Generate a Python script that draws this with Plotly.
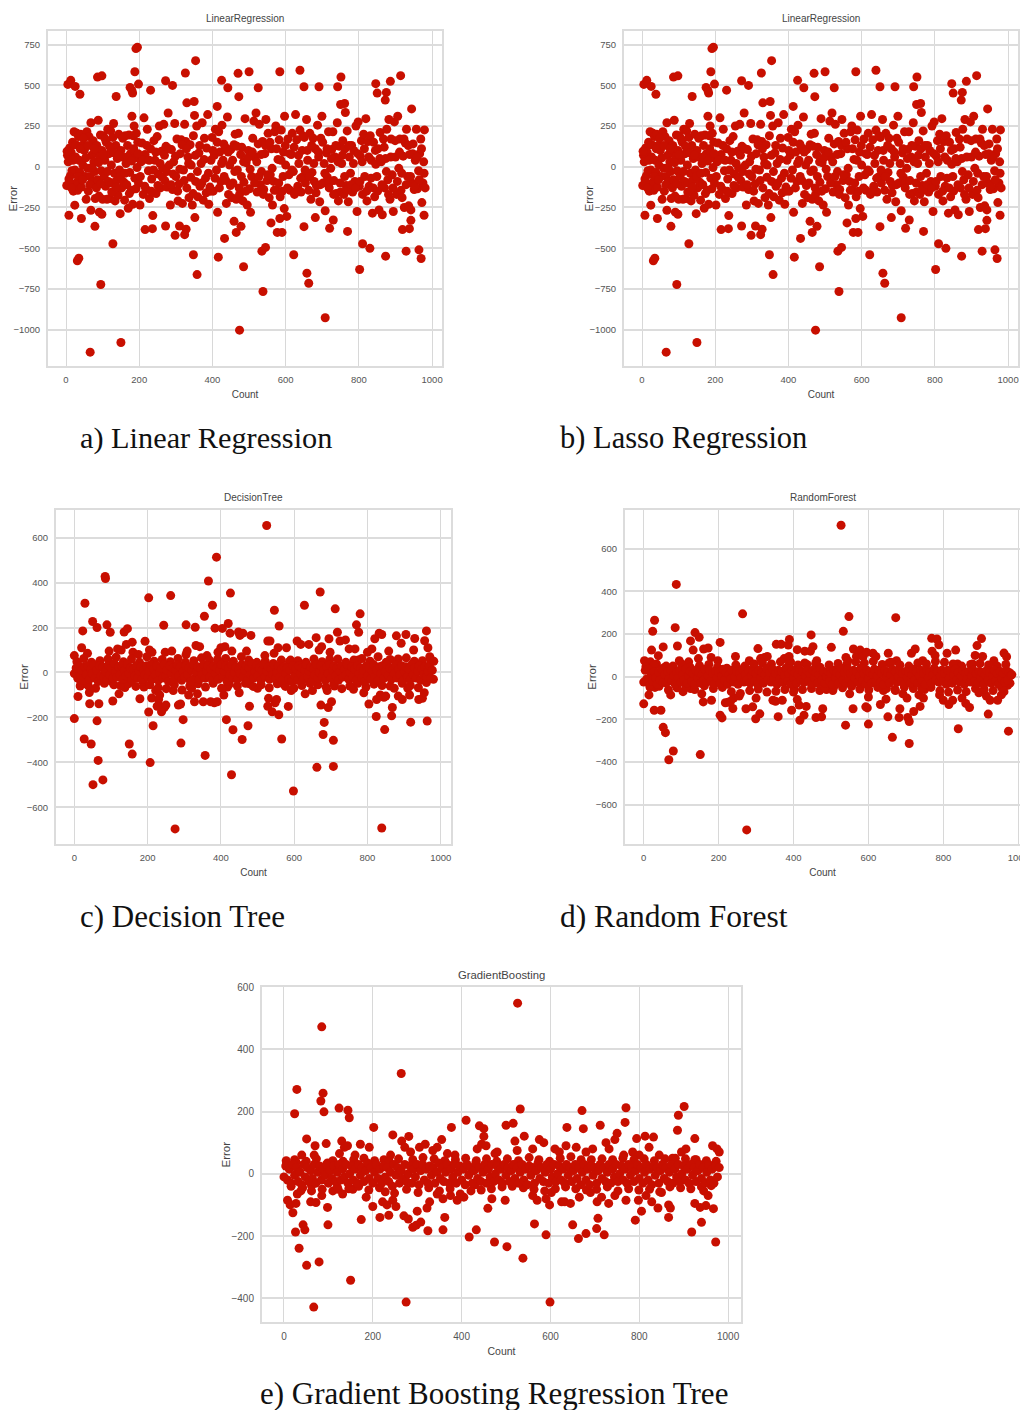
import plotly.graph_objects as go

W, H = 1020, 1410
RED = "#c80f00"

# ---------- Linear / Lasso regression (the two panels are visually identical) ----------
lr_outer = [(5,505),(13,530),(25,493),(38,445),(86,550),(98,558),(188,583),(195,733),(191,725),(198,507),(175,487),(182,452),(180,468),(137,431),(231,470),(272,528),(291,499),(326,575),(354,651),(330,392),(350,400),(413,370),(425,530),(442,485),(470,573),(472,430),(500,583),(525,485),(584,583),(639,592),(650,491),(691,491),(742,491),(751,551),(750,382),(761,388),(763,333),(846,510),(850,452),(872,409),(875,456),(886,524),(914,559),(944,355),(8,-298),(42,-318),(24,-236),(68,-267),(79,-366),(91,-279),(98,-292),(128,-473),(31,-577),(35,-561),(95,-723),(66,-1138),(150,-1079),(148,-288),(216,-386),(236,-380),(272,-364),(298,-421),(310,-364),(324,-417),(328,-384),(348,-540),(352,-312),(358,-662),(416,-555),(433,-440),(459,-335),(465,-403),(478,-366),(485,-614),(474,-1003),(535,-518),(545,-495),(538,-766),(560,-345),(577,-403),(590,-403),(584,-318),(596,-257),(622,-540),(650,-368),(658,-653),(663,-715),(681,-312),(708,-927),(720,-378),(730,-327),(769,-397),(810,-473),(802,-631),(830,-501),(873,-549),(919,-386),(929,-518),(938,-380),(964,-510),(970,-563),(942,-329),(978,-298),(979,226)]
lr_band = [(2,-115),(4,70),(6,30),(8,-75),(10,115),(12,-55),(14,90),(16,-25),(18,150),(20,-150),(22,215),(24,-20),(26,60),(28,-100),(30,205),(32,-145),(34,185),(36,40),(38,-35),(40,200),(42,-125),(44,130),(46,10),(50,100),(52,-60),(55,-200),(57,215),(59,-10),(61,-150),(63,185),(66,-60),(68,270),(70,70),(72,-90),(74,160),(76,30),(78,-30),(80,-195),(82,85),(84,130),(86,-80),(88,285),(90,-180),(92,60),(94,195),(96,-25),(98,100),(100,-200),(102,190),(104,-60),(106,40),(108,-120),(110,150),(112,-200),(114,230),(116,-90),(118,80),(120,-195),(122,220),(124,10),(126,-100),(128,180),(130,265),(132,-40),(134,-210),(136,130),(138,-85),(140,50),(142,-175),(144,200),(146,-20),(150,100),(152,-130),(154,60),(158,-95),(160,-205),(162,190),(164,20),(166,-110),(168,130),(170,-255),(172,195),(174,-35),(176,80),(178,-145),(180,310),(182,-230),(184,190),(186,250),(188,-70),(190,55),(192,205),(194,-5),(196,150),(198,-100),
(202,-235),(205,30),(208,145),(211,-170),(213,300),(216,75),(219,-140),(222,230),(225,-25),(228,-195),(231,110),(234,-75),(237,-300),(240,160),(243,40),(246,-165),(249,185),(252,-45),(255,250),(258,-130),(261,95),(264,-10),(267,260),(270,-85),(273,125),(276,-125),(279,330),(282,10),(285,-235),(288,105),(291,-140),(294,30),(297,265),(300,-60),(303,170),(306,-210),(309,-105),(312,80),(315,165),(318,-225),(321,-20),(324,260),(327,155),(330,-130),(333,60),(336,-190),(339,135),(342,10),(345,-235),(348,190),(351,315),(354,-90),(357,250),(360,-185),(363,85),(366,-120),(369,20),(372,270),(375,-205),(378,175),(381,-70),(384,115),(387,320),(390,-230),(393,-125),(396,40),(399,180),(402,-150),(405,70),(408,230),(411,-20),(414,-280),(417,215),(420,90),(423,-90),(426,255),(429,40),(432,-60),(435,120),(438,-225),(441,305),(444,-170),(447,10),(450,105),(453,-190),(456,-100),(459,135),(462,200),(465,-200),(468,-20),(471,205),(474,-170),(477,75),(480,120),(483,-210),(486,-95),(489,295),(492,25),(495,-235),(498,100),(501,-135),(504,-280),(507,-60),(510,175),(513,280),(516,60),(519,330),(522,-155),(525,140),(528,260),(531,-110),(534,-30),(537,155),(540,-140),(543,80),(546,290),(549,-85),(552,205),(555,-190),(558,-50),(561,110),(564,-235),(567,-90),(570,215),(573,250),(576,-145),(579,45),(582,165),(585,-185),(588,225),(591,-150),(594,90),(597,310),(600,10),(603,-305),(606,170),(609,-50),(612,-145),(615,75),(618,205),(621,-30),(624,-170),(627,320),(630,165),(633,-120),(636,20),(639,225),(642,-155),(645,100),(648,-60),(651,180),(654,-100),(657,290),(660,40),(663,-145),(666,205),(669,-200),(672,-35),(675,175),(678,-90),(681,110),(684,-115),(687,255),(690,60),(693,-215),(696,175),(699,310),(702,-100),(705,20),(708,-270),(711,85),(714,-65),(717,215),(720,-95),(723,-10),(726,105),(729,215),(732,-85),(735,60),(738,-165),(741,270),(744,-210),(747,125),(750,-155),(753,20),(756,160),(759,-170),(762,110),(765,-115),(768,220),(771,-215),(774,60),(777,-40),(780,130),(783,-155),(786,100),(789,-90),(792,250),(795,-275),(798,275),(801,-120),(804,65),(807,160),(810,-170),(813,200),(816,-60),(819,295),(822,-210),(825,155),(828,-120),(831,190),(834,40),(837,-285),(840,150),(843,-185),(846,15),(849,-60),(852,110),(855,-265),(858,210),(861,30),(864,-295),(867,170),(870,-130),(873,50),(876,230),(879,-80),(882,290),(885,-200),(888,170),(891,-50),(894,-275),(897,275),(900,60),(903,-170),(906,310),(909,-10),(912,170),(915,-145),(918,-190),(921,65),(924,-250),(927,145),(930,230),(933,-60),(936,-240),(939,75),(942,-265),(945,-100),(948,140),(951,-140),(954,40),(957,230),(960,-135),(963,-25),(966,80),(969,170),(972,-220),(975,-100),(978,-40),(981,-130)]
lr_band2 = [(3,95),(9,-95),(15,-130),(19,40),(27,135),(33,-60),(39,110),(45,-80),(48,175),(54,55),(60,130),(65,-110),(71,-5),(77,110),(83,-130),(89,25),(95,-105),(101,75),(107,170),(113,-30),(119,125),(125,-155),(131,85),(137,-125),(143,70),(149,-60),(155,175),(161,-40),(167,60),(173,-165),(179,35),(185,110),(191,-135),(197,80),(203,-60),(209,40),(215,-120),(221,130),(227,40),(233,-150),(239,-20),(245,90),(251,-115),(257,20),(263,-65),(269,70),(275,-30),(281,110),(287,-110),(293,-45),(299,65),(305,-150),(311,-15),(317,135),(323,-85),(329,110),(335,20),(341,-65),(347,-165),(353,70),(359,-30),(365,130),(371,-100),(377,45),(383,-160),(389,-40),(395,-150),(401,100),(407,-70),(413,150),(419,-130),(425,20),(431,140),(437,-85),(443,90),(449,-115),(455,40),(461,-30),(467,125),(473,-130),(479,-60),(485,30),(491,-150),(497,55),(503,-15),(509,90),(515,-100),(521,30),(527,-60),(533,75),(539,-170),(545,130),(551,-50),(557,150),(563,-10),(569,-145),(575,110),(581,-100),(587,40),(593,-60),(599,130),(605,-130),(611,80),(617,-20),(623,120),(629,-150),(635,70),(641,-70),(647,190),(653,-20),(659,100),(665,-60),(671,130),(677,20),(683,-160),(689,90),(695,-110),(701,150),(707,-40),(713,110),(719,-130),(725,50),(731,-170),(737,130),(743,30),(749,-100),(755,70),(761,-60),(767,-145),(773,130),(779,-110),(785,20),(791,-130),(797,80),(803,-90),(809,30),(815,110),(821,-150),(827,60),(833,-70),(839,-130),(845,100),(851,-150),(857,50),(863,-110),(869,120),(875,-30),(881,-170),(887,60),(893,-130),(899,160),(905,-90),(911,90),(917,-40),(923,170),(929,-110),(935,130),(941,-60),(947,80),(953,-120),(959,60),(965,-80),(971,110),(977,30)]

# ---------- Decision tree ----------
dt_outer = [(0,-205),(0,75),(29,308),(23,185),(50,227),(62,200),(84,427),(85,418),(89,212),(98,179),(27,-296),(46,-318),(65,-391),(51,-499),(78,-478),(62,-215),(10,-107),(41,-89),(42,-139),(67,-139),(105,-127),(122,-95),(150,-318),(158,-363),(138,-67),(179,-117),(203,332),(193,139),(244,210),(263,342),(305,212),(330,201),(355,250),(366,407),(377,299),(388,513),(384,197),(426,353),(420,218),(404,196),(203,-176),(207,-401),(215,-237),(211,-114),(291,-314),(297,-210),(275,-696),(357,-369),(415,-210),(433,-255),(429,-455),(458,-298),(474,-237),(478,-150),(525,654),(546,277),(559,207),(628,299),(671,358),(712,283),(718,179),(780,261),(770,212),(776,179),(558,-188),(566,-296),(598,-527),(584,-151),(662,-422),(682,-222),(679,-276),(707,-302),(707,-418),(693,-156),(673,-145),(839,-692),(847,-254),(824,-196),(866,-193),(868,-156),(918,-221),(963,-216),(961,185),(956,141),(929,151),(905,169),(879,163),(839,169),(832,175),(234,-150),(240,-165),(246,-155),(230,-120),(250,-145),(238,-175),(226,-150)]
dt_mid = [(20,110),(16,-60),(36,85),(30,-50),(95,95),(108,-55),(118,105),(128,100),(136,180),(142,125),(145,195),(158,135),(160,90),(175,80),(190,-65),(205,100),(212,90),(222,-80),(233,-100),(248,90),(266,95),(270,-80),(284,-145),(290,-140),(305,80),(308,95),(312,-100),(320,-70),(328,-130),(332,120),(342,115),(336,-95),(352,-130),(362,75),(372,-130),(382,-135),(390,-130),(392,90),(400,110),(408,-100),(411,115),(418,-65),(430,95),(425,175),(448,180),(452,165),(460,175),(470,95),(482,165),(450,-90),(478,-50),(500,-70),(520,75),(528,140),(534,140),(530,-115),(528,-150),(540,-175),(548,-135),(552,-120),(545,85),(556,110),(570,-50),(579,110),(590,55),(592,-80),(608,140),(618,125),(640,125),(630,-95),(650,-80),(660,155),(668,100),(675,115),(695,150),(698,90),(690,-80),(702,-130),(710,-60),(725,140),(740,145),(750,105),(766,105),(762,-75),(775,55),(790,-90),(800,90),(804,-140),(812,105),(820,150),(825,-120),(835,-100),(845,-110),(850,-105),(858,95),(862,-60),(892,130),(884,-105),(895,-120),(910,-70),(915,-100),(926,100),(940,-120),(950,-115),(955,-90),(965,110),(970,70)]
dt_fill = [(7,48),(18,-45),(26,62),(38,-58),(47,45),(58,-70),(70,52),(82,-48),(92,60),(103,-42),(114,68),(126,-58),(134,48),(147,-50),(156,60),(168,-62),(178,45),(187,-40),(198,70),(206,-55),(218,50),(229,-68),(240,58),(251,-72),(262,48),(273,-55),(283,62),(294,-78),(303,45),(315,-60),(326,52),(338,-50),(347,65),(358,-65),(369,55),(379,-48),(391,58),(402,-70),(413,62),(423,-52),(434,50),(445,-60),(456,70),(467,-48),(476,55),(488,-62),(498,45),(510,-55),(521,50),(532,-68),(543,40),(554,-50),(565,55),(576,-62),(587,48),(599,-70),(610,52),(621,-58),(632,45),(643,-48),(654,60),(665,-55),(676,48),(687,-65),(697,58),(708,-50),(719,60),(730,-72),(741,45),(752,-60),(763,55),(774,-48),(785,62),(796,-65),(807,50),(818,-52),(829,70),(840,-58),(851,45),(862,58),(873,-70),(884,60),(895,-48),(906,65),(917,-58),(928,50),(939,-68),(950,52),(961,-45),(972,58),(980,-30)]
dt_core = [(0,-5),(5,20),(9,-25),(13,30),(17,-15),(21,10),(25,-35),(29,25),(33,-10),(37,30),(41,-30),(45,15),(49,-5),(53,35),(57,-25),(61,10),(65,-40),(69,30),(73,-15),(77,25),(81,-20),(85,5),(89,-35),(93,30),(97,-10),(101,20),(105,-25),(109,40),(113,0),(117,-20),(121,25),(125,-10),(129,30),(133,-30),(137,10),(141,-15),(145,35),(149,-5),(153,20),(157,-35),(161,15),(165,-15),(169,30),(173,-25),(177,5),(181,25),(185,-30),(189,10),(193,-10),(197,30),(201,-20),(205,5),(209,35),(213,-30),(217,15),(221,-10),(225,30),(229,-35),(233,0),(237,20),(241,-25),(245,35),(249,-15),(253,10),(257,-40),(261,30),(265,-5),(269,20),(273,-30),(277,10),(281,35),(285,-15),(289,25),(293,-35),(297,5),(301,-20),(305,30),(309,-10),(313,20),(317,-40),(321,10),(325,35),(329,-25),(333,0),(337,25),(341,-30),(345,15),(349,-10),(353,35),(357,-25),(361,5),(365,30),(369,-20),(373,15),(377,-35),(381,30),(385,-5),(389,20),(393,-30),(397,10),(401,35),(405,-20),(409,5),(413,30),(417,-40),(421,20),(425,-10),(429,35),(433,-25),(437,0),(441,25),(445,-30),(449,15),(453,-5),(457,35),(461,-20),(465,10),(469,30),(473,-35),(477,20),(481,-10),(485,40),(489,-25),(493,5),(497,30),(501,-15),(505,20),(509,-35),(513,10),(517,35),(521,-20),(525,5),(529,25),(533,-30),(537,15),(541,-10),(545,35),(549,-25),(553,0),(557,30),(561,-20),(565,15),(569,-35),(573,25),(577,-5),(581,20),(585,-30),(589,10),(593,-40),(597,30),(601,-15),(605,15),(609,-35),(613,30),(617,-5),(621,20),(625,-30),(629,10),(633,35),(637,-20),(641,5),(645,25),(649,-40),(653,15),(657,-10),(661,35),(665,-25),(669,0),(673,30),(677,-20),(681,10),(685,-35),(689,25),(693,-5),(697,35),(701,-25),(705,10),(709,30),(713,-15),(717,20),(721,-35),(725,5),(729,30),(733,-20),(737,15),(741,-10),(745,35),(749,-30),(753,0),(757,25),(761,-20),(765,15),(769,-35),(773,30),(777,-5),(781,20),(785,-25),(789,10),(793,-40),(797,30),(801,-15),(805,20),(809,-30),(813,5),(817,35),(821,-20),(825,10),(829,-35),(833,25),(837,-5),(841,30),(845,-25),(849,5),(853,35),(857,-15),(861,20),(865,-30),(869,10),(873,-5),(877,35),(881,-25),(885,15),(889,-10),(893,30),(897,-35),(901,5),(905,25),(909,-20),(913,15),(917,-30),(921,35),(925,-10),(929,20),(933,-25),(937,5),(941,30),(945,-35),(949,15),(953,-10),(957,25),(961,-20),(965,5),(969,30),(973,-25),(977,10),(981,50)]

# ---------- Random forest ----------
rf_outer = [(527,710),(275,-718),(87,433),(84,230),(264,295),(548,282),(533,213),(673,277),(29,265),(24,213),(21,125),(52,140),(39,99),(90,144),(137,207),(148,185),(125,168),(0,-127),(28,-157),(46,-157),(52,-237),(58,-262),(67,-389),(79,-348),(151,-365),(14,-85),(159,-118),(181,-110),(204,-180),(209,-193),(204,161),(218,-122),(238,-149),(273,-150),(291,-141),(299,-197),(310,-174),(305,132),(354,152),(367,152),(359,-187),(389,175),(386,149),(395,-157),(410,127),(410,-107),(415,-133),(417,-204),(428,-180),(434,-139),(447,196),(430,120),(452,141),(460,-191),(475,-188),(478,-150),(501,138),(539,-227),(559,-150),(600,-222),(593,-141),(597,-146),(653,110),(647,-105),(632,-130),(652,-188),(664,-284),(682,-191),(684,-150),(705,-191),(709,-210),(709,-313),(721,-163),(738,-139),(747,-100),(769,180),(783,177),(788,150),(833,125),(840,-244),(870,-144),(902,179),(890,146),(920,-175),(974,-255),(962,111),(969,94)]
rf_mid = [(2,75),(18,70),(34,60),(60,50),(95,75),(120,70),(132,125),(146,85),(160,130),(172,135),(180,90),(30,-50),(72,-85),(105,-70),(125,-55),(155,-80),(198,75),(245,95),(240,-100),(225,-120),(232,-115),(255,-90),(282,75),(295,60),(300,-100),(312,85),(322,90),(330,95),(345,-110),(352,-115),(370,-110),(375,85),(388,95),(392,70),(402,-60),(430,65),(445,120),(462,75),(470,-65),(488,-60),(505,-65),(540,90),(545,75),(550,-80),(560,130),(568,95),(578,125),(586,95),(595,115),(612,110),(620,95),(600,-95),(640,-65),(655,65),(672,-65),(675,75),(692,-80),(703,-100),(715,110),(725,130),(735,-85),(745,75),(750,-60),(770,120),(778,100),(790,-85),(800,-110),(810,110),(815,-130),(825,-110),(838,60),(850,-100),(860,-125),(878,60),(885,100),(905,95),(895,-75),(915,-90),(925,-110),(935,75),(945,-110),(955,-85),(962,-70),(972,-40)]
rf_fill = [(6,48),(17,-50),(28,55),(41,-45),(54,42),(66,-62),(78,50),(89,-52),(101,60),(113,-48),(124,45),(136,-60),(149,52),(162,-42),(174,58),(186,-55),(197,45),(210,-50),(222,40),(234,-70),(246,55),(258,-78),(270,50),(283,-65),(294,58),(306,-58),(317,65),(329,-72),(341,60),(353,-68),(365,70),(377,-60),(389,62),(400,-72),(412,55),(424,-60),(436,58),(448,-55),(459,62),(471,45),(483,-48),(495,55),(507,-50),(519,62),(531,-52),(543,60),(555,-45),(566,70),(577,-58),(589,65),(601,-62),(613,72),(625,-50),(637,58),(648,-55),(660,68),(671,-60),(684,55),(696,-48),(708,50),(720,-55),(732,65),(743,-58),(755,60),(767,-50),(779,72),(791,-65),(803,68),(814,-72),(826,60),(838,-62),(849,50),(861,-70),(873,58),(886,-55),(898,62),(909,-60),(921,55),(933,-65),(944,50),(956,-52),(967,58),(978,-30)]
rf_core = [(0,-25),(4,30),(8,-10),(12,35),(16,-40),(20,15),(24,-20),(28,25),(32,-5),(36,-35),(40,20),(44,-15),(48,35),(52,-25),(56,10),(60,-30),(64,25),(68,-10),(72,30),(76,-20),(80,5),(84,-35),(88,20),(92,-5),(96,30),(100,-25),(104,10),(108,-15),(112,35),(116,-30),(120,5),(124,25),(128,-20),(132,15),(136,-35),(140,30),(144,-5),(148,20),(152,-30),(156,10),(160,-15),(164,35),(168,-25),(172,5),(176,30),(180,-20),(184,15),(188,-35),(192,25),(196,-5),(200,20),(204,-30),(208,5),(212,35),(216,-15),(220,20),(224,-35),(228,10),(232,-10),(236,30),(240,-25),(244,0),(248,25),(252,-35),(256,15),(260,-5),(264,35),(268,-25),(272,10),(276,-15),(280,30),(284,-30),(288,5),(292,25),(296,-20),(300,15),(304,-35),(308,30),(312,-5),(316,20),(320,-30),(324,10),(328,40),(332,-15),(336,20),(340,-25),(344,35),(348,-5),(352,15),(356,-35),(360,30),(364,-10),(368,25),(372,-25),(376,5),(380,40),(384,-20),(388,15),(392,-35),(396,30),(400,-5),(404,20),(408,-30),(412,10),(416,35),(420,-15),(424,25),(428,-25),(432,5),(436,30),(440,-20),(444,15),(448,-35),(452,30),(456,-5),(460,20),(464,-30),(468,10),(472,35),(476,-15),(480,25),(484,-30),(488,0),(492,25),(496,-20),(500,15),(504,-35),(508,30),(512,-5),(516,20),(520,-30),(524,10),(528,40),(532,-15),(536,20),(540,-30),(544,35),(548,-10),(552,15),(556,-35),(560,30),(564,-5),(568,25),(572,-25),(576,5),(580,40),(584,-20),(588,15),(592,-35),(596,30),(600,-10),(604,20),(608,-30),(612,10),(616,35),(620,-20),(624,5),(628,30),(632,-25),(636,15),(640,-35),(644,30),(648,-5),(652,20),(656,-30),(660,10),(664,35),(668,-15),(672,25),(676,-25),(680,0),(684,30),(688,-20),(692,15),(696,-35),(700,25),(704,-5),(708,20),(712,-30),(716,10),(720,35),(724,-15),(728,25),(732,-30),(736,5),(740,30),(744,-20),(748,15),(752,-35),(756,30),(760,-5),(764,20),(768,-30),(772,10),(776,40),(780,-15),(784,25),(788,-25),(792,5),(796,30),(800,-20),(804,15),(808,-35),(812,30),(816,-5),(820,25),(824,-30),(828,10),(832,35),(836,-15),(840,20),(844,-25),(848,5),(852,30),(856,-35),(860,15),(864,-10),(868,25),(872,-25),(876,5),(880,30),(884,-20),(888,15),(892,-30),(896,25),(900,-5),(904,20),(908,-35),(912,10),(916,30),(920,-15),(924,20),(928,-30),(932,5),(936,30),(940,-20),(944,15),(948,-35),(952,25),(956,-10),(960,15),(964,-25),(968,30),(972,-15),(976,20),(980,5),(983,10)]

# ---------- Gradient boosting ----------
gb_outer = [(526,548),(85,472),(264,322),(29,271),(88,259),(83,234),(24,193),(90,199),(124,211),(144,204),(147,180),(532,208),(202,149),(245,125),(281,120),(377,149),(410,172),(440,154),(450,145),(500,156),(516,162),(541,121),(637,149),(671,203),(674,145),(712,156),(770,212),(768,165),(901,216),(888,188),(886,140),(925,113),(832,118),(813,121),(794,113),(51,112),(95,97),(67,-428),(51,-294),(79,-283),(34,-239),(26,-187),(43,-164),(47,-180),(99,-164),(150,-342),(275,-412),(599,-412),(324,-183),(417,-203),(433,-180),(474,-219),(502,-234),(538,-271),(358,-180),(564,-161),(590,-196),(650,-164),(663,-208),(680,-192),(704,-176),(721,-196),(918,-187),(940,-156),(972,-219),(459,-111),(174,-147),(216,-140),(236,-133),(290,-172),(298,-165),(308,-155),(362,-140),(791,-149),(866,-140),(707,-143),(967,-112),(937,-108),(950,-102),(98,-108),(8,-85),(14,-100),(20,-125),(27,-95),(60,-90),(72,-92)]
gb_mid = [(6,35),(24,45),(40,60),(70,90),(68,60),(130,105),(136,85),(143,90),(125,65),(160,60),(172,95),(192,85),(225,45),(240,60),(265,105),(272,85),(285,70),(305,85),(318,95),(335,75),(345,85),(355,110),(368,65),(385,60),(435,80),(445,95),(450,120),(455,90),(475,65),(480,70),(520,105),(525,75),(560,80),(575,110),(585,100),(610,80),(620,70),(635,90),(658,85),(680,70),(695,80),(725,100),(732,80),(745,110),(750,130),(765,60),(785,70),(800,60),(822,85),(845,60),(875,50),(895,70),(905,80),(925,45),(965,90),(975,80),(980,70),(30,-65),(42,-45),(62,-55),(85,-70),(110,-55),(122,-50),(132,-65),(155,-50),(185,-75),(200,-105),(222,-90),(232,-100),(245,-85),(252,-105),(270,-135),(280,-145),(300,-120),(322,-110),(328,-90),(345,-65),(358,-80),(375,-70),(390,-85),(405,-75),(430,-35),(468,-80),(498,-85),(560,-70),(570,-85),(590,-80),(598,-100),(602,-60),(625,-90),(632,-90),(645,-95),(665,-75),(690,-60),(705,-90),(715,-75),(731,-95),(745,-70),(770,-85),(798,-85),(805,-120),(815,-70),(828,-90),(842,-110),(850,-60),(866,-100),(870,-110),(925,-95),(945,-55),(955,-70)]
gb_fill = [(5,42),(16,-40),(27,38),(38,-55),(50,40),(62,-38),(73,48),(86,-50),(98,35),(110,42),(120,-42),(133,40),(146,-48),(157,45),(168,-40),(180,50),(191,-52),(204,42),(215,-45),(228,-58),(237,40),(249,-62),(258,48),(276,-50),(290,45),(302,-60),(313,52),(326,-45),(338,48),(350,-55),(362,42),(374,-48),(386,45),(397,-65),(409,50),(421,-55),(433,42),(444,-52),(456,48),(467,-48),(479,40),(491,-42),(503,48),(514,-40),(528,42),(539,-45),(552,52),(563,-50),(574,45),(587,-55),(598,40),(611,-48),(622,50),(634,-42),(646,55),(657,-48),(669,45),(681,-52),(692,45),(704,-50),(716,48),(728,-42),(740,45),(752,-55),(763,50),(776,-48),(788,45),(799,-52),(811,48),(823,-50),(834,42),(846,-58),(858,48),(869,-42),(881,50),(893,-45),(904,48),(916,-48),(928,45),(940,-42),(951,42),(962,-38),(973,40)]
gb_core = [(0,-10),(4,25),(8,-20),(12,15),(16,-30),(20,30),(24,-5),(28,20),(32,-25),(36,5),(40,-35),(44,30),(48,-10),(52,20),(56,-25),(60,10),(64,-15),(68,30),(72,-30),(76,5),(80,25),(84,-20),(88,15),(92,-5),(96,30),(100,-30),(104,10),(108,-15),(112,25),(116,-25),(120,5),(124,30),(128,-20),(132,15),(136,-10),(140,30),(144,-30),(148,0),(152,25),(156,-20),(160,15),(164,-30),(168,30),(172,-5),(176,20),(180,-25),(184,10),(188,35),(192,-15),(196,20),(200,-30),(204,5),(208,30),(212,-15),(216,15),(220,-30),(224,25),(228,-10),(232,20),(236,-25),(240,5),(244,-40),(248,30),(252,-5),(256,20),(260,-30),(264,10),(268,-15),(272,30),(276,-25),(280,0),(284,25),(288,-30),(292,15),(296,-10),(300,30),(304,-35),(308,10),(312,30),(316,-20),(320,15),(324,-30),(328,25),(332,-5),(336,20),(340,-30),(344,5),(348,35),(352,-15),(356,20),(360,-25),(364,5),(368,30),(372,-30),(376,15),(380,-10),(384,30),(388,-30),(392,5),(396,25),(400,-20),(404,15),(408,-35),(412,30),(416,-5),(420,20),(424,-30),(428,10),(432,35),(436,-15),(440,20),(444,-25),(448,5),(452,30),(456,-30),(460,15),(464,-10),(468,30),(472,-25),(476,0),(480,25),(484,-20),(488,15),(492,-30),(496,30),(500,-5),(504,20),(508,-25),(512,10),(516,30),(520,-15),(524,20),(528,-30),(532,5),(536,30),(540,-20),(544,15),(548,-35),(552,25),(556,-5),(560,20),(564,-30),(568,10),(572,35),(576,-15),(580,20),(584,-25),(588,5),(592,30),(596,-30),(600,15),(604,-10),(608,30),(612,-25),(616,0),(620,25),(624,-20),(628,15),(632,-30),(636,30),(640,-5),(644,20),(648,-25),(652,10),(656,30),(660,-15),(664,20),(668,-35),(672,5),(676,30),(680,-20),(684,15),(688,-35),(692,25),(696,-5),(700,20),(704,-30),(708,10),(712,30),(716,-15),(720,20),(724,-25),(728,5),(732,30),(736,-30),(740,15),(744,-10),(748,30),(752,-25),(756,0),(760,25),(764,-20),(768,15),(772,-30),(776,30),(780,-5),(784,20),(788,-25),(792,10),(796,30),(800,-15),(804,20),(808,-30),(812,5),(816,30),(820,-20),(824,15),(828,-35),(832,25),(836,-5),(840,20),(844,-30),(848,10),(852,30),(856,-15),(860,20),(864,-25),(868,5),(872,30),(876,-30),(880,15),(884,-10),(888,30),(892,-25),(896,0),(900,25),(904,-20),(908,15),(912,-30),(916,30),(920,-5),(924,20),(928,-25),(932,10),(936,30),(940,-15),(944,20),(948,-30),(952,5),(956,30),(960,-20),(964,15),(968,-30),(972,25),(976,-10),(980,20)]

# ---------- Axis ticks and text ----------
lr_yticks = [-1000, -750, -500, -250, 0, 250, 500, 750]
tree_yticks = [-600, -400, -200, 0, 200, 400, 600]
gb_yticks = [-400, -200, 0, 200, 400, 600]
xticks = [0, 200, 400, 600, 800, 1000]

panels = [
    dict(name="LinearRegression", caption="a) Linear Regression", pts=lr_outer + lr_band + lr_band2, yticks=lr_yticks,
         box=(48, 442, 31, 366), xr=(-49.2, 1027), yr=(-1223, 833), cap=(78, 438), cs=30.3, tf=9.5, xt=10, tt=10, ex=13),
    dict(name="LinearRegression", caption="b) Lasso Regression", pts=lr_outer + lr_band + lr_band2, yticks=lr_yticks,
         box=(624, 1018, 31, 366), xr=(-49.2, 1027), yr=(-1223, 833), cap=(558, 438), cs=30.5, tf=9.5, xt=10, tt=10, ex=589),
    dict(name="DecisionTree", caption="c) Decision Tree", pts=dt_outer + dt_mid + dt_fill + dt_core, yticks=tree_yticks,
         box=(56, 451, 509.5, 844), xr=(-50, 1028), yr=(-763, 725), cap=(78, 916), cs=31, tf=9.5, xt=10, tt=10, ex=24),
    dict(name="RandomForest", caption="d) Random Forest", pts=rf_outer + rf_mid + rf_fill + rf_core, yticks=tree_yticks,
         box=(625, 1020, 509.5, 844), xr=(-50, 1004.8), yr=(-784, 784), cap=(558, 916), cs=31.5, tf=9.5, xt=10, tt=10, ex=592),
    dict(name="GradientBoosting", caption="e) Gradient Boosting Regression Tree", pts=gb_outer + gb_mid + gb_fill + gb_core, yticks=gb_yticks,
         box=(262, 741, 987, 1322), xr=(-49.5, 1029), yr=(-476, 600), cap=(258, 1393), cs=31, tf=10, xt=10.5, tt=11.3, ex=225),
]

fig = go.Figure()
annotations = []
layout = dict(template="none", width=W, height=H, margin=dict(l=0, r=0, t=0, b=0, pad=0), autosize=False,
              paper_bgcolor="white", plot_bgcolor="white", showlegend=False)

for i, p in enumerate(panels):
    sfx = "" if i == 0 else str(i + 1)
    x0, x1, y0, y1 = p["box"]
    font = "Liberation Sans"
    fig.add_trace(go.Scatter(
        x=[q[0] for q in p["pts"]], y=[q[1] for q in p["pts"]], mode="markers",
        xaxis="x" + sfx, yaxis="y" + sfx,
        marker=dict(color=RED, size=9, line=dict(width=0)), hoverinfo="skip"))
    layout["xaxis" + sfx] = dict(
        domain=[x0 / W, x1 / W], anchor="y" + sfx, range=list(p["xr"]), tickvals=xticks, ticktext=[str(t) for t in xticks],
        automargin=False, ticklabeloverflow="allow",
        showgrid=True, gridcolor="#d8d8d8", gridwidth=1.2, zeroline=False, showline=True, linecolor="#dcdcdc",
        linewidth=2, mirror=True, ticks="outside", ticklen=4, tickcolor="rgba(0,0,0,0)",
        tickfont=dict(family=font, size=p["tf"], color="#555555"),
        title=dict(text="Count", font=dict(family=font, size=p["xt"], color="#444444"), standoff=7))
    layout["yaxis" + sfx] = dict(
        domain=[1 - y1 / H, 1 - y0 / H], anchor="x" + sfx, range=list(p["yr"]), tickvals=p["yticks"],
        automargin=False,
        showgrid=True, gridcolor="#dcdcdc", gridwidth=1.5, zeroline=False, showline=True, linecolor="#dcdcdc",
        linewidth=2, mirror=(i != 3), ticks="outside", ticklen=4, tickcolor="rgba(0,0,0,0)",
        tickfont=dict(family=font, size=p["tf"], color="#555555"))
    annotations.append(dict(text="Error", xref="paper", yref="paper", x=p["ex"] / W, y=1 - (y0 + y1) / 2 / H,
                            xanchor="center", yanchor="middle", showarrow=False, textangle=-90,
                            font=dict(family=font, size=11.5, color="#444444")))
    annotations.append(dict(text=p["name"], xref="paper", yref="paper", x=(x0 + x1) / 2 / W, y=1 - (y0 - 12) / H,
                            xanchor="center", yanchor="middle", showarrow=False,
                            font=dict(family=font, size=p["tt"], color="#444444")))
    annotations.append(dict(text=p["caption"], xref="paper", yref="paper", x=p["cap"][0] / W, y=1 - p["cap"][1] / H,
                            xanchor="left", yanchor="middle", showarrow=False,
                            font=dict(family="Liberation Serif", size=p["cs"], color="#111111")))

layout["annotations"] = annotations
fig.update_layout(**layout)
fig.write_html("out.html", config=dict(displayModeBar=False),
               post_script="document.body.style.margin='0';document.documentElement.style.overflow='hidden';")
